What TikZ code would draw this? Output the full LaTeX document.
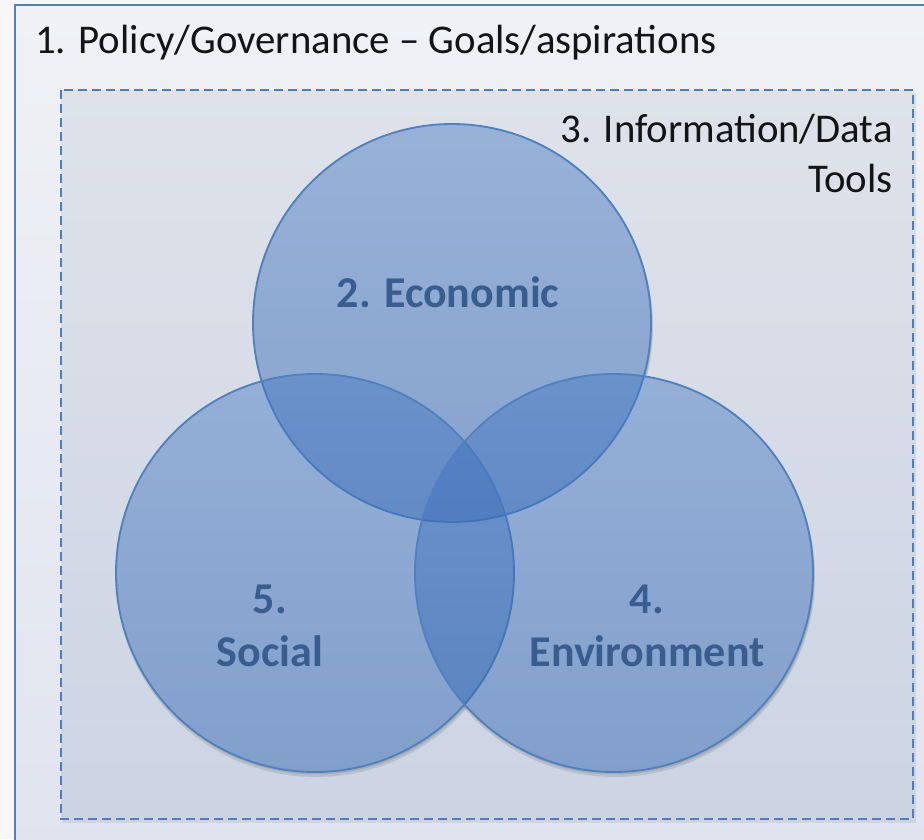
\documentclass[tikz,border=0pt]{standalone}
\usepackage{fontspec}
\setmainfont{Carlito}
\definecolor{edgeblue}{RGB}{79,129,189}
\definecolor{dashblue}{RGB}{74,126,200}
\definecolor{labelblue}{RGB}{56,93,142}
\definecolor{vennA}{RGB}{68,120,196}
\definecolor{vennB}{RGB}{40,95,175}
\tikzset{
  venn/.style={circle, inner sep=0pt, minimum size=298.5pt,
    top color=vennA, bottom color=vennB, fill opacity=0.45,
    draw=edgeblue, draw opacity=1, line width=1.4pt},
  title/.style={font=\fontsize{30.6}{37.5}\selectfont, text=black!92, inner sep=0pt},
  lbl/.style={font=\fontsize{33}{39.75}\selectfont\bfseries, text=labelblue, inner sep=0pt, align=center},
}
\begin{document}
\begin{tikzpicture}[x=0.75pt,y=-0.75pt]
\useasboundingbox (0,0) rectangle (924,839);
\fill[white!97!black] (0,0) rectangle (924,839);
% outer box
\shade[top color={rgb,255:red,239;green,241;blue,245}, bottom color={rgb,255:red,224;green,228;blue,239}]
  (15,5) rectangle (940,860);
\draw[edgeblue, line width=1.8pt] (15,5) rectangle (940,860);
% inner dashed box shadow
\fill[black, opacity=0.08] (63,93) rectangle (916,823);
\shade[top color={rgb,255:red,223;green,226;blue,233}, bottom color={rgb,255:red,204;green,212;blue,228}]
  (61,90) rectangle (913,819);
\draw[dashblue, line width=1.5pt, dash pattern=on 6.75pt off 3.75pt] (61,90) rectangle (913,819);
% shadows of circles outside the union
\begin{scope}[even odd rule]
  \clip (0,0) rectangle (924,839) (452,323) circle [radius=149.25pt];
  \clip (0,0) rectangle (924,839) (315,573) circle [radius=149.25pt];
  \clip (0,0) rectangle (924,839) (614,573) circle [radius=149.25pt];
  \foreach \p in {(452,323),(315,573),(614,573)}{
    \fill[black, opacity=0.10] \p ++(1,4) circle [radius=150pt];
    \fill[black, opacity=0.10] \p ++(1,2) circle [radius=149.6pt];
  }
\end{scope}
% circles
\node[venn] (eco) at (452,323) {};
\node[venn] (soc) at (315,573) {};
\node[venn] (env) at (614,573) {};
% texts
\node[title, anchor=base west] (policy) at (35,53) {1. Policy/Governance – Goals/aspirations};
\node[title, anchor=east, align=right] (info) at (893,153) {3. Information/Data\\Tools};
\node[lbl, anchor=base] (ecot) at (448,307) {2. Economic};
\node[lbl] (soct) at (270,626) {5.\\Social};
\node[lbl] (envt) at (647,626) {4.\\Environment};
\end{tikzpicture}
\end{document}
